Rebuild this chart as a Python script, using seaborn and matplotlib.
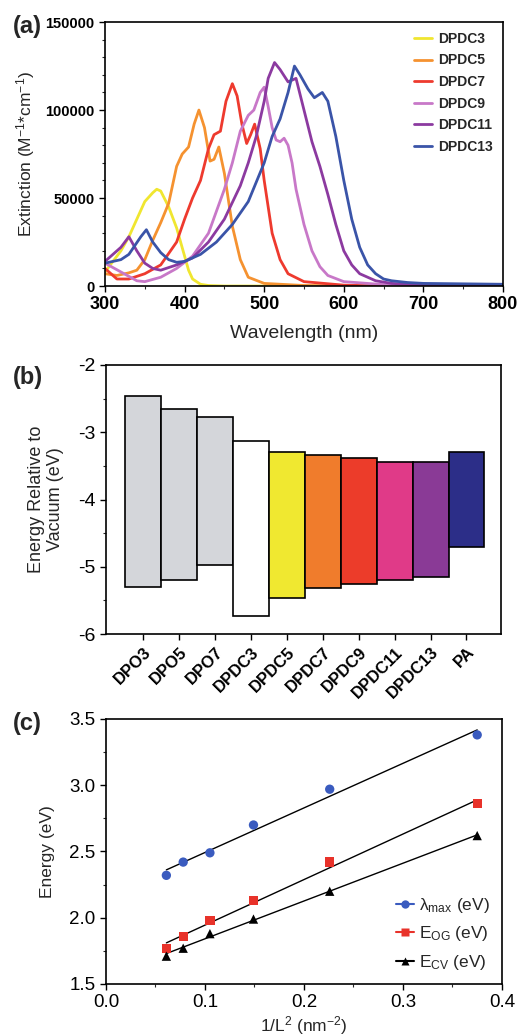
import numpy as np
import pandas as pd
import matplotlib
matplotlib.use("Agg")
import matplotlib.pyplot as plt
from matplotlib.ticker import MultipleLocator
from matplotlib.lines import Line2D
import seaborn as sns

sns.set_style("ticks")
plt.rcParams['font.family'] = ['Liberation Sans', 'DejaVu Sans']
plt.rcParams['mathtext.default'] = 'regular'

# ---------------- (a) absorption spectra ----------------
dpdc3_wl = [300, 310, 320, 330, 340, 350, 360, 365, 370, 380, 390, 400, 405, 410, 420, 430, 450, 800]
dpdc3_ext = [8000, 14000, 20000, 28000, 38000, 48000, 53000, 55000, 54000, 45000, 33000, 17000, 9000, 4000, 1000, 300, 0, 0]

dpdc5_wl = [300, 315, 330, 340, 350, 360, 370, 380, 390, 397, 405, 412, 418, 425, 432, 437, 443, 450, 460, 470, 480, 500, 550, 600, 800]
dpdc5_ext = [7000, 6000, 7500, 9000, 15000, 26000, 36000, 47000, 68000, 75000, 79000, 92000, 100000, 90000, 71000, 72000, 79000, 64000, 34000, 15000, 5000, 1500, 300, 0, 0]

dpdc7_wl = [300, 315, 330, 350, 370, 390, 400, 410, 420, 430, 437, 445, 452, 460, 466, 472, 478, 483, 488, 495, 500, 510, 520, 530, 550, 600, 650, 800]
dpdc7_ext = [10000, 4000, 4000, 7000, 12000, 25000, 38000, 50000, 60000, 78000, 86000, 88000, 105000, 115000, 108000, 92000, 81000, 86000, 92000, 78000, 60000, 30000, 15000, 7000, 2500, 500, 0, 0]

dpdc9_wl = [300, 320, 340, 350, 370, 390, 410, 430, 450, 460, 470, 480, 487, 495, 500, 505, 510, 515, 520, 525, 530, 535, 540, 550, 560, 570, 580, 600, 650, 700, 800]
dpdc9_ext = [13000, 8000, 3000, 2500, 5000, 10000, 17000, 30000, 55000, 70000, 88000, 97000, 100000, 110000, 113000, 102000, 90000, 83000, 82000, 84000, 80000, 70000, 55000, 35000, 20000, 11000, 6000, 2500, 800, 0, 0]

dpdc11_wl = [300, 320, 330, 340, 350, 360, 370, 390, 410, 430, 450, 470, 480, 490, 500, 505, 513, 520, 530, 540, 550, 560, 570, 580, 590, 600, 610, 620, 640, 660, 700, 800]
dpdc11_ext = [14000, 22000, 28000, 20000, 13000, 10000, 9000, 12000, 16000, 25000, 38000, 57000, 70000, 85000, 105000, 118000, 127000, 123000, 116000, 118000, 100000, 82000, 68000, 52000, 35000, 20000, 12000, 7000, 3000, 1500, 500, 0]

dpdc13_wl = [300, 320, 330, 345, 352, 360, 370, 380, 390, 400, 420, 440, 460, 480, 500, 510, 520, 530, 538, 545, 555, 563, 573, 580, 590, 600, 610, 620, 630, 640, 650, 660, 680, 700, 800]
dpdc13_ext = [13000, 15000, 18000, 28000, 32000, 25000, 19000, 15000, 13500, 14000, 18000, 25000, 35000, 48000, 70000, 85000, 95000, 110000, 125000, 120000, 112000, 107000, 110000, 105000, 85000, 60000, 38000, 22000, 12000, 7000, 4000, 3000, 2000, 1500, 1000]

spec_names = ["DPDC3", "DPDC5", "DPDC7", "DPDC9", "DPDC11", "DPDC13"]
spec_colors = ["#f0e630", "#f59230", "#ee3a2e", "#c878c8", "#8c3aa0", "#3a54a8"]
spec_wl = [dpdc3_wl, dpdc5_wl, dpdc7_wl, dpdc9_wl, dpdc11_wl, dpdc13_wl]
spec_ext = [dpdc3_ext, dpdc5_ext, dpdc7_ext, dpdc9_ext, dpdc11_ext, dpdc13_ext]

# ---------------- (b) energy levels ----------------
mol_names = ["DPO3", "DPO5", "DPO7", "DPDC3", "DPDC5", "DPDC7", "DPDC9", "DPDC11", "DPDC13", "PA"]
lumo = [-2.46, -2.66, -2.78, -3.13, -3.29, -3.34, -3.39, -3.44, -3.44, -3.30]
homo = [-5.30, -5.20, -4.97, -5.73, -5.47, -5.32, -5.25, -5.19, -5.15, -4.70]
mol_colors = ["#d4d6da", "#d4d6da", "#d4d6da", "#ffffff", "#f0e830", "#f07c2c",
              "#ec3c2a", "#e03a88", "#8a3a96", "#2c2e88"]

# ---------------- (c) energy vs 1/L^2 ----------------
inv_L2 = [0.061, 0.078, 0.105, 0.149, 0.226, 0.375]
lam_max = [2.32, 2.42, 2.49, 2.70, 2.97, 3.38]
e_og = [1.77, 1.86, 1.98, 2.13, 2.42, 2.86]
e_cv = [1.71, 1.77, 1.88, 1.99, 2.20, 2.62]

fig = plt.figure(figsize=(5.2, 10.36), dpi=100)

# panel (a)
ax1 = fig.add_axes([0.2019, 0.7239, 0.7654, 0.2548])
rows = []
for name, wl, ext in zip(spec_names, spec_wl, spec_ext):
    for w, e in zip(wl, ext):
        rows.append({"Wavelength": w, "Extinction": e, "Dye": name})
spec_df = pd.DataFrame(rows)
sns.lineplot(data=spec_df, x="Wavelength", y="Extinction", hue="Dye",
             palette=dict(zip(spec_names, spec_colors)), linewidth=2, ax=ax1,
             sort=False, estimator=None)
ax1.set_xlim(300, 800)
ax1.set_ylim(0, 150000)
ax1.xaxis.set_major_locator(MultipleLocator(100))
ax1.xaxis.set_minor_locator(MultipleLocator(50))
ax1.yaxis.set_major_locator(MultipleLocator(50000))
ax1.yaxis.set_minor_locator(MultipleLocator(10000))
ax1.set_xlabel("Wavelength (nm)", fontsize=14, labelpad=8)
ax1.set_ylabel(r"Extinction (M$^{-1}$*cm$^{-1}$)", fontsize=12.5, labelpad=6)
for lab in ax1.get_xticklabels():
    lab.set_fontsize(13)
    lab.set_fontweight("bold")
for lab in ax1.get_yticklabels():
    lab.set_fontsize(10.5)
    lab.set_fontweight("bold")
leg = ax1.legend(loc="upper right", frameon=False, handlelength=1.3,
                 labelspacing=0.55, prop={"weight": "bold", "size": 10},
                 borderaxespad=0.3, handletextpad=0.5)
for ln in leg.get_lines():
    ln.set_linewidth(2)

# panel (b)
ax2 = fig.add_axes([0.2038, 0.388, 0.7596, 0.2597])
xpos = np.arange(len(mol_names))
ax2.bar(xpos, np.array(lumo) - np.array(homo), bottom=homo, width=1.0,
        color=mol_colors, edgecolor="black", linewidth=1.2)
ax2.set_xlim(-1.04, 9.96)
ax2.set_ylim(-6, -2)
ax2.set_xticks(xpos)
ax2.set_xticklabels(mol_names, rotation=45, ha="right", rotation_mode="anchor",
                    fontsize=12, fontweight="bold")
ax2.yaxis.set_minor_locator(MultipleLocator(0.5))
ax2.set_yticks([-6, -5, -4, -3, -2])
ax2.set_yticklabels(["-6", "-5", "-4", "-3", "-2"], fontsize=14)
ax2.set_ylabel("Energy Relative to\nVacuum (eV)", fontsize=13, labelpad=10)

# panel (c)
ax3 = fig.add_axes([0.2038, 0.0502, 0.7615, 0.2558])
series = [("lam", lam_max, "#3a5bbf", "o", r"$\lambda_{max}$ (eV)"),
          ("og", e_og, "#e8322a", "s", r"E$_{OG}$ (eV)"),
          ("cv", e_cv, "black", "^", r"E$_{CV}$ (eV)")]
handles = []
for key, yv, col, mk, lab in series:
    sns.regplot(x=np.array(inv_L2), y=np.array(yv), ci=None, scatter=False,
                truncate=True, line_kws={"color": "black", "linewidth": 1.0}, ax=ax3)
    sns.scatterplot(x=inv_L2, y=yv, color=col, marker=mk, s=45,
                    edgecolor="none", ax=ax3, zorder=3)
    handles.append(Line2D([0], [0], color=col, marker=mk, markersize=6,
                          linewidth=1.5, markeredgecolor="none", label=lab))
ax3.set_xlim(0, 0.4)
ax3.set_ylim(1.5, 3.5)
ax3.xaxis.set_major_locator(MultipleLocator(0.1))
ax3.xaxis.set_minor_locator(MultipleLocator(0.05))
ax3.yaxis.set_major_locator(MultipleLocator(0.5))
ax3.yaxis.set_minor_locator(MultipleLocator(0.25))
ax3.xaxis.set_major_formatter(plt.FormatStrFormatter("%.1f"))
ax3.yaxis.set_major_formatter(plt.FormatStrFormatter("%.1f"))
ax3.tick_params(labelsize=13.5)
ax3.set_xlabel(r"1/L$^2$ (nm$^{-2}$)", fontsize=12.5, labelpad=2)
ax3.set_ylabel("Energy (eV)", fontsize=12.5, labelpad=10)
ax3.legend(handles=handles, loc="lower right", frameon=False, fontsize=12.5,
           handlelength=1.0, labelspacing=0.55, handletextpad=0.3,
           borderaxespad=0.3)

for ax in (ax1, ax2, ax3):
    for sp in ax.spines.values():
        sp.set_visible(True)
        sp.set_linewidth(1.2)
        sp.set_color("black")
    ax.tick_params(which="major", direction="out", length=4, width=1, colors="black")
    ax.tick_params(which="minor", direction="out", length=2, width=0.8)
ax2.tick_params(axis="x", which="minor", bottom=False)

fig.text(0.025, 0.974, "(a)", fontsize=17, fontweight="bold", va="center")
fig.text(0.025, 0.636, "(b)", fontsize=17, fontweight="bold", va="center")
fig.text(0.025, 0.302, "(c)", fontsize=17, fontweight="bold", va="center")

fig.savefig("out.png", dpi=100)
